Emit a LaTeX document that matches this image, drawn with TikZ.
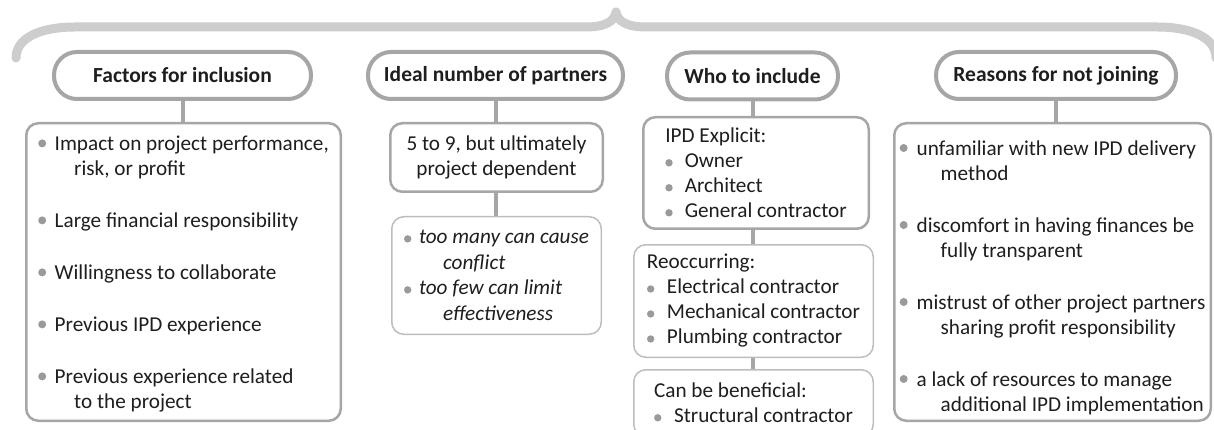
\documentclass[tikz,border=0pt]{standalone}
\usepackage{fontspec}
\setmainfont{Carlito}
\usepackage{xcolor}
\usepackage{tikz}
\usetikzlibrary{
  positioning,
  calc
}
\definecolor{ipdLine}{HTML}{A6A6A6}
\definecolor{ipdSoft}{HTML}{BDBDBD}
\definecolor{ipdBrace}{HTML}{CDCDCD}
\definecolor{ipdDot}{HTML}{9A9A9A}
\definecolor{ipdInk}{HTML}{1E1E1E}
% grey list markers, the raised one for the big lists
\newcommand{\bul}[1][16.5pt]{\makebox[#1][l]{\tikz[baseline=0pt]\fill[ipdDot] (4pt,7.3pt) circle[radius=4pt];}}
\newcommand{\lowbul}[1][15pt]{\makebox[#1][l]{\tikz[baseline=0pt]\fill[ipdDot] (3.7pt,5pt) circle[radius=3.7pt];}}
\tikzset{
  head/.style={
    draw=ipdLine, line width=4pt, rounded corners=23pt, fill=white,
    minimum height=47pt, inner sep=0pt, text=ipdInk,
    font=\fontsize{21.5}{25}\selectfont\bfseries
  },
  card/.style={
    draw=ipdLine, line width=2.5pt, rounded corners=12pt, fill=white,
    inner sep=0pt, text=ipdInk, align=left,
    font=\fontsize{21.2}{25}\selectfont
  },
  softcard/.style={card, draw=ipdSoft, line width=1.5pt},
  link/.style={draw=ipdLine, line width=4pt},
  brace/.style={draw=ipdBrace, line width=9pt, line cap=round, line join=round}
}

\begin{document}
\begin{tikzpicture}[x=1pt, y=-1pt]
  \useasboundingbox (0,0) rectangle (1214,430);
  \draw[brace] (16,58) .. controls (16,38) and (40,27) .. (75,27) -- (585,27)
    .. controls (605,27) and (614,22) .. (616,12)
    .. controls (618,22) and (627,27) .. (647,27) -- (1157,27)
    .. controls (1192,27) and (1216,38) .. (1216,58);

  \node[head, minimum width=257pt] (h1) at (182.5,75.5) {Factors for inclusion};
  \node[head, minimum width=255pt] (h2) at (495.5,75.5) {Ideal number of partners};
  \node[head, minimum width=171pt] (h3) at (752.5,76) {Who to include};
  \node[head, minimum width=240pt] (h4) at (1056,75.5) {Reasons for not joining};

  \node[card, minimum width=314.5pt, minimum height=297.5pt] (b1) at (183.5,272) {%
    \rule{0pt}{19pt}\bul Impact on project performance,\\
    \hspace*{36pt}risk, or profit\\[27pt]
    \bul Large financial responsibility\\[27pt]
    \bul Willingness to collaborate\\[27pt]
    \bul Previous IPD experience\\[27pt]
    \bul Previous experience related\\
    \hspace*{36pt}to the project};

  \node[card, align=center, minimum width=212.5pt, minimum height=68.5pt] (b2a) at (496.5,157.5)
    {5 to 9, but ultimately\\project dependent};
  \node[softcard, font=\fontsize{21.2}{25.5}\selectfont\itshape,
    minimum width=209.5pt, minimum height=117.5pt] (b2b) at (496.5,275.5) {%
    \lowbul too many can cause\\
    \hspace*{39pt}conflict\\
    \lowbul too few can limit\\
    \hspace*{39pt}effectiveness};

  \node[card, minimum width=225.5pt, minimum height=111.5pt] (b3a) at (756,173) {%
    IPD Explicit:\\
    \lowbul[19.5pt]Owner\\
    \lowbul[19.5pt]Architect\\
    \lowbul[19.5pt]General contractor};
  \node[softcard, minimum width=239.5pt, minimum height=112.5pt] (b3b) at (753.5,301) {%
    Reoccurring:\\
    \lowbul[20pt]Electrical contractor\\
    \lowbul[20pt]Mechanical contractor\\
    \lowbul[20pt]Plumbing contractor};
  \node[softcard, minimum width=239.5pt, minimum height=66.5pt] (b3c) at (753.5,403) {%
    Can be beneficial:\\
    \lowbul[20pt]Structural contractor};

  \node[card, minimum width=316.5pt, minimum height=297.5pt] (b4) at (1052.5,272) {%
    \rule{0pt}{26pt}\bul[17pt]unfamiliar with new IPD delivery\\
    \hspace*{41pt}method\\[27pt]
    \bul[17pt]discomfort in having finances be\\
    \hspace*{41pt}fully transparent\\[27pt]
    \bul[17pt]mistrust of other project partners\\
    \hspace*{41pt}sharing profit responsibility\\[27pt]
    \bul[17pt]a lack of resources to manage\\
    \hspace*{41pt}additional IPD implementation};

  \draw[link] (h1.south) -- (h1.south |- b1.north);
  \draw[link] (h2.south) -- (h2.south |- b2a.north);
  \draw[link] (h2.south |- b2a.south) -- (h2.south |- b2b.north);
  \draw[link] (h3.south) -- (h3.south |- b3a.north);
  \draw[link] (h3.south |- b3a.south) -- (h3.south |- b3b.north);
  \draw[link] (h3.south |- b3b.south) -- (h3.south |- b3c.north);
  \draw[link] (h4.south) -- (h4.south |- b4.north);
\end{tikzpicture}
\end{document}
